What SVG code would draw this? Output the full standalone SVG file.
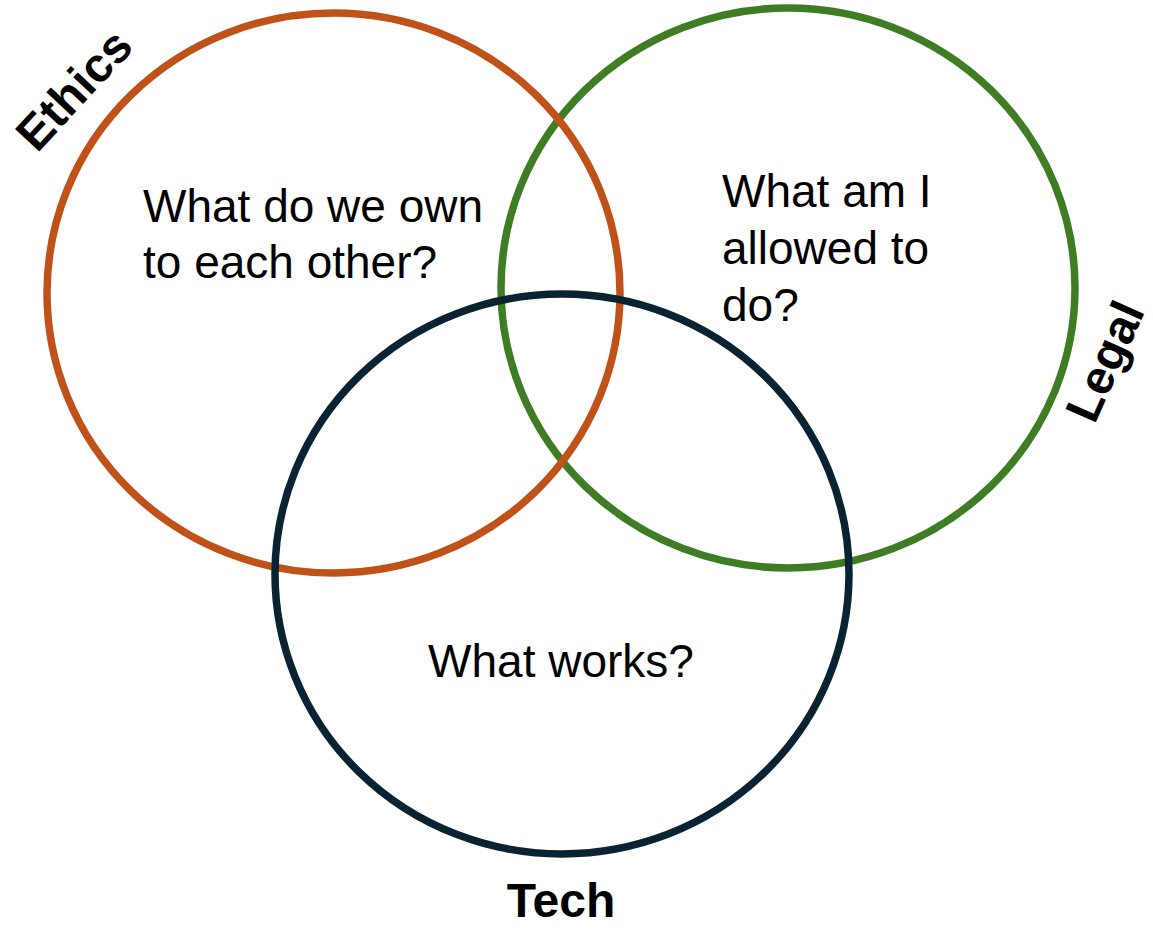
<svg xmlns="http://www.w3.org/2000/svg" width="1153" height="929" viewBox="0 0 1153 929">
<style>
.ring{fill:none;stroke-width:7.5}
.q{font-family:"Liberation Sans",Arial,sans-serif;font-size:46px;fill:#000}
.lab{font-family:"Liberation Sans",Arial,sans-serif;font-size:48px;font-weight:bold;fill:#000}
</style>
<rect width="1153" height="929" fill="#fff"/>
<g id="legal">
<ellipse class="ring" cx="788" cy="288" rx="287" ry="280" stroke="#3E7D24"/>
<text class="q" x="722" y="207">What am I</text>
<text class="q" x="722" y="264">allowed to</text>
<text class="q" x="722" y="321">do?</text>
<text class="lab" text-anchor="middle" transform="translate(1120,368) rotate(-66)">Legal</text>
</g>
<g id="ethics">
<ellipse class="ring" cx="333.5" cy="293" rx="286.5" ry="280" stroke="#C05219"/>
<text class="q" x="143" y="222">What do we own</text>
<text class="q" x="143" y="278">to each other?</text>
<text class="lab" text-anchor="middle" transform="translate(86,101) rotate(-47)">Ethics</text>
</g>
<g id="tech">
<ellipse class="ring" cx="562" cy="574" rx="287" ry="280" stroke="#0A2333"/>
<text class="q" x="561" y="677" text-anchor="middle">What works?</text>
<text class="lab" x="561" y="917" text-anchor="middle">Tech</text>
</g>
<g id="connectors"/>
</svg>
